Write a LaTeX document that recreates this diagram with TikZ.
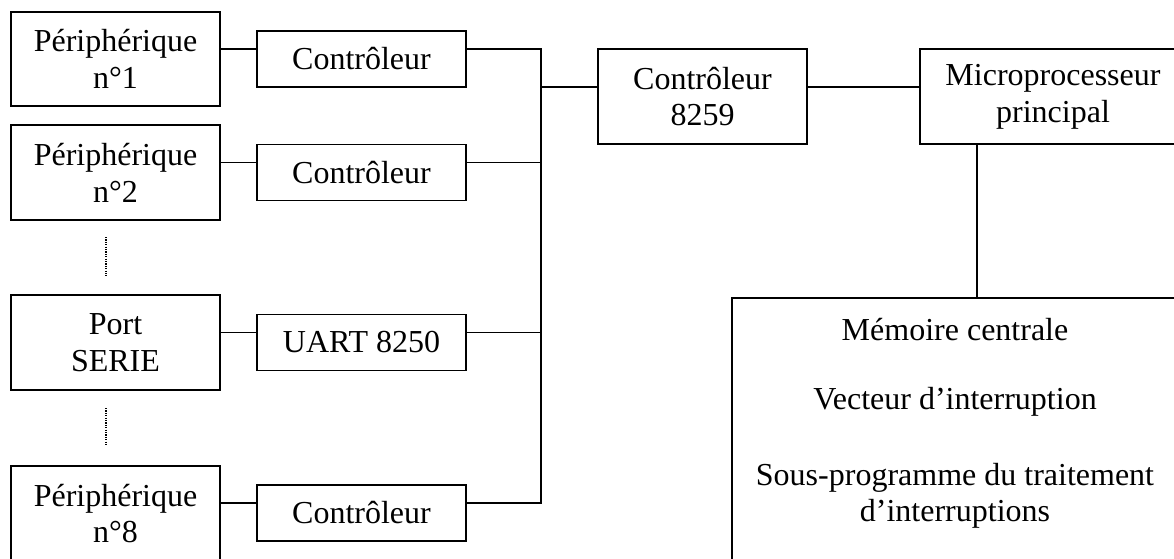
\documentclass[tikz,border=0pt]{standalone}
\usepackage{fontspec}
\setmainfont{Liberation Serif}
\begin{document}
\begin{tikzpicture}[x=1pt,y=-1pt,
  box/.style={draw,line width=1.8pt,rectangle,align=center,inner sep=0pt,
    font=\fontsize{32}{36.8}\selectfont},
  bigbox/.style={box,minimum width=209pt,minimum height=95pt},
  smallbox/.style={box,minimum width=209pt,minimum height=56pt},
  txt/.style={inner sep=0pt,anchor=base,font=\fontsize{32}{36.8}\selectfont},
  wire/.style={line width=1.8pt},
  dots/.style={line width=1.3pt,dash pattern=on 1.2pt off 1.2pt}]
\useasboundingbox (0,0) rectangle (1174,558);
\clip (0,0) rectangle (1174,558);
% left column
\node[bigbox,minimum height=94pt] (p1) at (115.5,59) {Périphérique\\n°1};
\node[bigbox] (p2) at (115.5,172.5) {Périphérique\\n°2};
\node[bigbox] (ps) at (115.5,342.5) {Port\\SERIE};
\node[bigbox] (p8) at (115.5,513.5) {Périphérique\\n°8};
% controllers
\node[smallbox] (c1) at (361.5,59) {Contrôleur};
\node[smallbox] (c2) at (361.5,172.5) {Contrôleur};
\node[smallbox] (cu) at (361.5,342.5) {UART 8250};
\node[smallbox] (c8) at (361.5,513) {Contrôleur};
% right part
\node[bigbox] (k) at (702.5,96.5) {Contrôleur\\8259};
\node[box,minimum width=266pt,minimum height=95pt] (mp) at (1053,96.5) {Microprocesseur\\principal};
\node[draw,line width=1.8pt,rectangle,inner sep=0pt,anchor=north west,
  minimum width=448pt,minimum height=300pt] (mem) at (731,297) {};
\node[txt] (m1) at (955,340) {Mémoire centrale};
\node[txt] (m2) at (955,409) {Vecteur d’interruption};
\node[txt] (m3) at (955,485) {Sous-programme du traitement};
\node[txt] (m4) at (955,521) {d’interruptions};
% bus
\coordinate (bt) at (541,49);
\coordinate (bb) at (541,503);
% periph -> controllers
\draw[wire] ([yshift=10pt]p1.east) -- ([yshift=10pt]c1.west);
\draw[wire] ([yshift=10pt]p2.east) -- ([yshift=10pt]c2.west);
\draw[wire] ([yshift=10pt]ps.east) -- ([yshift=10pt]cu.west);
\draw[wire] ([yshift=10pt]c8.west) -- ([yshift=10pt]c8.west -| p8.east);
% controllers -> bus
\draw[wire] ([yshift=10pt]c1.east) -- (bt) -- (bb) -- ([yshift=10pt]c8.east);
\path ([yshift=10pt]c2.east) coordinate (c2e);
\path ([yshift=10pt]cu.east) coordinate (cue);
\draw[wire] (c2e) -- (c2e -| bt);
\draw[wire] (cue) -- (cue -| bt);
% bus -> 8259 -> micro
\path ([yshift=9.5pt]k.west) coordinate (kw);
\draw[wire] (kw -| bt) -- (kw);
\draw[wire] ([yshift=9.5pt]k.east) -- ([yshift=9.5pt]mp.west);
% micro -> memory
\path ([xshift=-76pt]mp.south) coordinate (ms);
\draw[wire] (ms) -- (ms |- mem.north);
% dotted continuations
\coordinate (d1a) at (106,237);
\coordinate (d1b) at (106,276);
\coordinate (d2a) at (106,408);
\coordinate (d2b) at (106,446);
\draw[dots] (d1a) -- (d1b);
\draw[dots] (d2a) -- (d2b);
\end{tikzpicture}
\end{document}
